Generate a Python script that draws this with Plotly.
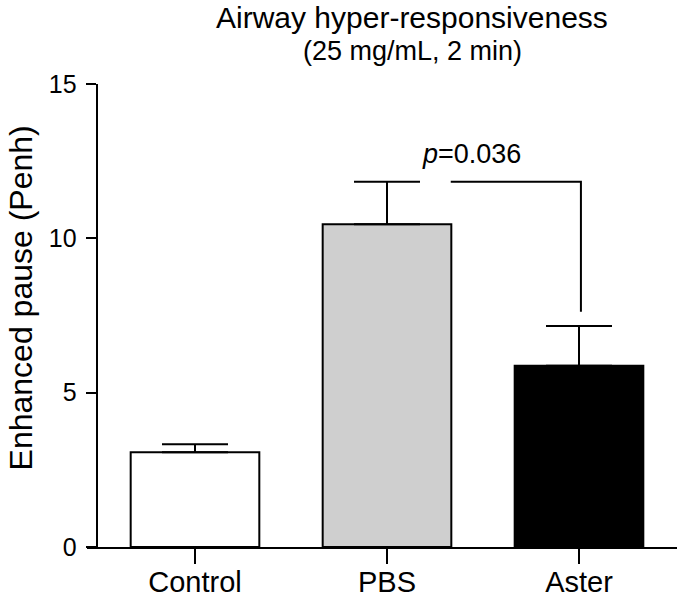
import plotly.graph_objects as go

# ---- data ----
categories = ["Control", "PBS", "Aster"]
means = [3.07, 10.46, 5.87]
sems = [0.26, 1.37, 1.29]
bar_colors = ["#ffffff", "#cfcfcf", "#000000"]
y_ticks = [0, 5, 10, 15]
p_label = "<i>p</i>=0.036"
title_line1 = "Airway hyper-responsiveness"
title_line2 = "(25 mg/mL, 2 min)"
y_title = "Enhanced pause (Penh)"

FONT = "Liberation Sans, Arial, Helvetica, sans-serif"

fig = go.Figure()
fig.add_trace(go.Bar(
    x=list(range(len(categories))),
    y=means,
    width=0.67,
    marker=dict(color=bar_colors, line=dict(color="black", width=2)),
    error_y=dict(type="data", array=sems, arrayminus=[0] * len(sems),
                 symmetric=False, color="black", thickness=2, width=33),
    showlegend=False,
    hoverinfo="skip",
))

# significance bracket between PBS (1) and Aster (2)
i_a, i_b = 1, 2
y_br = means[i_a] + sems[i_a]
y_end = means[i_b] + sems[i_b] + 0.46
fig.add_shape(type="path",
              path=f"M {i_a + 0.332},{y_br} L {i_b + 0.01},{y_br} L {i_b + 0.01},{y_end}",
              xref="x", yref="y", line=dict(color="black", width=2))
fig.add_annotation(x=i_a + 0.44, y=y_br + 0.9, xref="x", yref="y",
                   text=p_label, showarrow=False,
                   font=dict(family=FONT, size=27, color="black"),
                   xanchor="center", yanchor="middle")

# titles
fig.add_annotation(x=0.551, y=1.1447, xref="paper", yref="paper",
                   text=title_line1, showarrow=False,
                   font=dict(family=FONT, size=30, color="black"),
                   xanchor="center", yanchor="middle")
fig.add_annotation(x=0.551, y=1.071, xref="paper", yref="paper",
                   text=title_line2, showarrow=False,
                   font=dict(family=FONT, size=27, color="black"),
                   xanchor="center", yanchor="middle")
fig.add_annotation(x=-0.1119, y=0.539, xref="paper", yref="paper",
                   text=y_title, showarrow=False, textangle=-90,
                   font=dict(family=FONT, size=32, color="black"),
                   xanchor="center", yanchor="middle")

fig.update_layout(
    width=680, height=598,
    margin=dict(l=87, r=3, t=84, b=51, autoexpand=False),
    paper_bgcolor="white", plot_bgcolor="white",
    font=dict(family=FONT, color="black"),
    xaxis=dict(
        range=[-0.5625, 2.5104], automargin=False,
        tickmode="array", tickvals=list(range(len(categories))), ticktext=categories,
        showline=True, linecolor="black", linewidth=2,
        ticks="outside", ticklen=15, tickwidth=2, tickcolor="black",
        tickfont=dict(family=FONT, size=29, color="black"),
        ticklabelstandoff=-7,
        showgrid=False, zeroline=False,
    ),
    yaxis=dict(
        range=[0, 15], anchor="free", position=0.0164, automargin=False,
        tickmode="array", tickvals=y_ticks,
        showline=True, linecolor="black", linewidth=2,
        ticks="outside", ticklen=10, tickwidth=2, tickcolor="black",
        tickfont=dict(family=FONT, size=25, color="black"),
        ticklabelstandoff=4,
        showgrid=False, zeroline=False,
    ),
)

fig.write_html(
    "out.html",
    config={"displayModeBar": False},
    post_script="document.body.style.margin='0';document.body.style.padding='0';",
)
